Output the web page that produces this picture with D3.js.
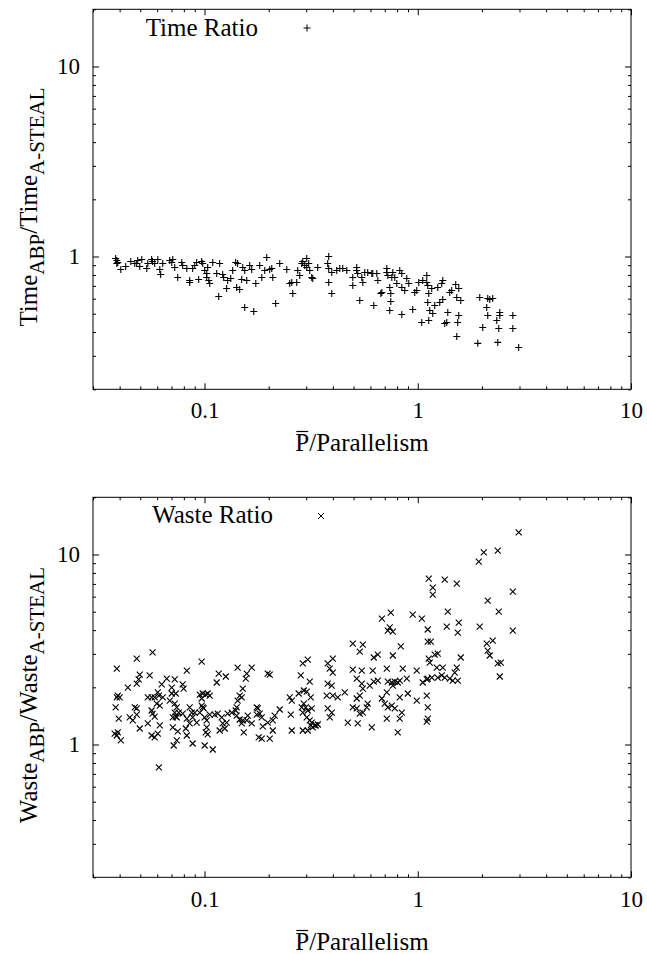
<!DOCTYPE html>
<html>
<head>
<meta charset="utf-8">
<script src="https://cdn.jsdelivr.net/npm/d3@7"></script>
<style>
body{margin:0;background:#fff;}
svg{font-family:"Liberation Serif","Times New Roman",serif;}
svg text{fill:#000;}
</style>
</head>
<body>
<svg id="chart" width="647" height="954"></svg>
<script>

/// Time ratio (ABP / A-STEAL) vs Pbar/Parallelism
var timeX = [0.0383,0.0388,0.0392,0.0388,0.0405,0.0427,0.0451,0.0471,0.0481,0.0486,
  0.0497,0.0508,0.0536,0.0542,0.0565,0.0571,0.0584,0.0604,0.0617,0.0623,
  0.0637,0.0687,0.0702,0.0710,0.0725,0.0749,0.0782,0.0790,0.0826,0.0852,
  0.0852,0.0880,0.0900,0.0919,0.0939,0.0970,0.0981,0.1002,0.1024,0.1024,
  0.1035,0.1047,0.1058,0.1093,0.1141,0.1166,0.1178,0.1217,0.1230,0.1270,
  0.1284,0.1327,0.1356,0.1400,0.1415,0.1430,0.1462,0.1494,0.1511,0.1544,
  0.1544,0.1578,0.1629,0.1665,0.1702,0.1740,0.1815,0.1856,0.1916,0.1958,
  0.2022,0.2067,0.2090,0.2157,0.2253,0.2431,0.2510,0.2566,0.2594,0.2707,
  0.2736,0.2796,0.2858,0.2890,0.2951,0.3016,0.3016,0.3082,0.3115,0.3183,
  0.3218,0.3395,0.3824,0.3782,0.3824,0.3951,0.3824,0.3951,0.4169,0.4307,
  0.4449,0.4646,0.4959,0.4959,0.5174,0.5174,0.5231,0.5346,0.5464,0.5525,
  0.5642,0.5827,0.6087,0.6219,0.6153,0.6426,0.6497,0.6786,0.6711,0.7158,
  0.7158,0.7237,0.7391,0.7473,0.7556,0.7391,0.7473,0.7640,0.7801,0.7973,
  0.8234,0.8418,0.8418,0.8418,0.8691,0.8882,0.9077,0.9473,0.9681,0.9893,
  1.011,1.044,1.055,1.102,1.102,1.114,1.126,1.114,1.138,1.126,
  1.163,1.176,1.201,1.241,1.268,1.296,1.310,1.338,1.368,1.383,
  1.412,1.443,1.507,1.524,1.557,1.591,1.557,1.540,1.524,1.310,
  1.953,2.106,2.129,2.176,2.247,2.129,2.017,1.912,2.347,2.424,
  2.424,2.398,2.372,2.792,2.792,2.974];
var timeY = [0.976,0.953,0.930,0.919,0.854,0.886,0.941,0.919,0.919,0.953,
  0.886,0.964,0.865,0.919,0.964,0.941,0.919,0.964,0.854,0.804,
  0.919,0.953,0.930,0.964,0.875,0.775,0.930,0.897,0.865,0.747,
  0.730,0.865,0.897,0.930,0.757,0.941,0.919,0.844,0.814,0.775,
  0.875,0.747,0.721,0.930,0.814,0.616,0.919,0.804,0.775,0.678,
  0.747,0.766,0.844,0.930,0.687,0.919,0.670,0.757,0.875,0.844,
  0.539,0.747,0.897,0.854,0.513,0.721,0.897,0.775,0.844,0.988,
  0.854,0.865,0.775,0.566,0.919,0.854,0.721,0.730,0.639,0.730,
  0.844,0.794,0.919,0.941,0.897,0.976,0.875,0.919,0.844,0.775,
  0.766,0.875,1.000,0.919,0.865,0.824,0.730,0.639,0.844,0.865,
  0.865,0.844,0.775,0.704,0.875,0.844,0.814,0.587,0.775,0.730,
  0.824,0.824,0.814,0.552,0.814,0.814,0.747,0.646,0.639,0.865,
  0.824,0.794,0.687,0.639,0.775,0.520,0.580,0.824,0.775,0.721,
  0.844,0.814,0.687,0.495,0.662,0.766,0.721,0.526,0.646,0.662,
  0.730,0.449,0.747,0.794,0.730,0.704,0.639,0.573,0.520,0.460,
  0.678,0.501,0.552,0.687,0.573,0.721,0.747,0.444,0.449,0.507,
  0.646,0.662,0.712,0.608,0.678,0.587,0.489,0.449,0.379,0.594,
  0.608,0.539,0.601,0.594,0.601,0.489,0.423,0.349,0.460,0.507,
  0.489,0.418,0.353,0.489,0.418,0.332];

/// Waste ratio (ABP / A-STEAL) vs Pbar/Parallelism
var wasteX = [0.0388,0.0481,0.0571,0.0970,0.0826,0.1430,0.1665,0.1578,0.1561,0.1166,
  0.1258,0.1141,0.1978,0.2022,0.2890,0.3049,0.2827,0.3115,0.3016,0.0497,
  0.0491,0.0481,0.0553,0.0437,0.0392,0.0388,0.0400,0.0383,0.0396,0.0379,
  0.0388,0.0405,0.0392,0.0630,0.0665,0.0702,0.0725,0.0790,0.0798,0.0604,
  0.0611,0.0542,0.0565,0.0584,0.0637,0.0597,0.0617,0.0702,0.0733,0.0687,
  0.0725,0.0741,0.0757,0.0725,0.0733,0.0710,0.0741,0.0471,0.0481,0.0446,
  0.0461,0.0481,0.0571,0.0584,0.0565,0.0617,0.0542,0.0497,0.0565,0.0584,
  0.0604,0.0710,0.0749,0.0817,0.0717,0.0741,0.0826,0.0790,0.0826,0.0852,
  0.0871,0.0880,0.0919,0.0900,0.0852,0.0880,0.0950,0.0970,0.0981,0.1013,
  0.1035,0.1058,0.0970,0.0981,0.0991,0.0950,0.1002,0.1024,0.1024,0.1013,
  0.1035,0.1002,0.1093,0.1058,0.1116,0.1153,0.1204,0.1217,0.1270,0.1178,
  0.1244,0.1284,0.1342,0.1400,0.1415,0.1430,0.1462,0.1494,0.1511,0.1415,
  0.1462,0.1494,0.1511,0.1527,0.1578,0.1665,0.1595,0.1758,0.1778,0.1815,
  0.1758,0.1795,0.1855,0.2022,0.1876,0.1855,0.1978,0.2090,0.2090,0.2134,
  0.2253,0.2538,0.2566,0.2510,0.2566,0.2765,0.2858,0.2921,0.2984,0.3049,
  0.2890,0.3016,0.3115,0.3149,0.2890,0.3049,0.3218,0.3324,0.3149,0.2921,
  0.0611,2.974,2.040,1.932,2.372,1.126,1.176,1.176,1.338,1.524,
  2.792,2.129,2.398,2.792,1.953,0.6786,0.7473,0.7391,0.7640,0.7237,
  0.9473,1.045,1.114,1.383,1.368,1.557,1.540,0.4959,0.5525,0.5346,
  0.8326,1.114,1.151,1.241,1.201,1.126,1.138,1.591,2.106,2.247,
  2.129,2.176,2.372,2.450,2.424,0.6219,0.6497,0.7640,0.3996,0.3782,
  0.3866,0.3996,0.3782,0.3951,0.3741,0.3996,0.3782,0.3951,0.3866,0.3288,
  0.3399,0.3183,0.3183,0.4214,0.4546,0.4959,0.5464,0.5174,0.5464,0.5525,
  0.5346,0.5174,0.4959,0.5174,0.5346,0.5525,0.5765,0.5827,0.5231,0.4697,
  0.6087,0.6153,0.6219,0.6497,0.5955,0.7158,0.7237,0.7556,0.7801,0.8058,
  0.8234,0.8504,0.8882,0.6786,0.7003,0.7237,0.7556,0.7158,0.7640,0.7801,
  0.8234,0.8418,0.8234,0.7158,0.8058,0.8981,0.9893,0.9893,1.102,1.114,
  1.102,1.114,1.055,1.102,1.114,1.163,1.228,1.241,1.296,1.310,
  1.338,1.412,1.459,1.491,1.524,1.540];
var wasteY = [2.51,2.83,3.05,2.73,2.45,2.54,2.54,2.36,2.22,2.36,
  2.28,2.12,2.36,2.33,2.67,2.80,2.31,2.14,1.90,2.33,
  2.20,2.09,2.31,1.99,1.81,1.77,1.77,1.57,1.37,1.14,
  1.115,1.05,1.157,2.07,2.22,1.99,2.20,2.07,1.97,1.88,
  1.81,1.77,1.77,1.77,1.77,1.64,1.60,1.855,1.855,1.70,
  1.64,1.57,1.47,1.47,1.40,1.39,1.39,1.57,1.55,1.39,
  1.338,1.438,1.455,1.40,1.51,1.26,1.29,1.214,1.115,1.089,
  1.142,1.229,1.171,1.214,0.988,1.05,1.115,1.455,1.37,1.57,
  1.47,1.39,1.305,1.47,1.29,1.012,1.832,1.746,1.855,1.832,
  1.855,1.81,1.60,1.57,1.55,1.47,1.39,1.338,1.229,1.157,
  1.129,0.988,0.941,1.438,1.438,1.455,1.39,1.29,1.305,1.185,
  1.214,1.455,1.47,1.51,1.57,1.70,1.81,1.77,1.97,1.42,
  1.354,1.29,1.338,1.157,1.338,1.29,1.42,1.57,1.55,1.455,
  1.438,1.089,1.075,1.075,1.244,1.39,1.305,1.338,1.185,1.42,
  1.528,1.438,1.185,1.77,1.70,1.855,1.57,1.64,1.57,1.51,
  1.47,1.39,1.338,1.26,1.185,1.185,1.229,1.26,1.77,1.924,
  0.757,13.06,10.25,9.17,10.49,7.47,6.70,6.15,7.38,7.03,
  6.38,5.72,5.01,3.98,4.17,4.60,4.95,4.13,3.93,3.98,
  4.83,4.60,4.03,5.01,4.17,4.38,3.88,3.40,3.357,3.08,
  3.28,3.48,3.48,3.01,2.974,2.83,2.70,2.87,3.40,3.52,
  3.12,2.94,2.67,2.70,2.28,2.87,2.97,2.94,2.83,2.67,
  2.51,2.39,2.09,2.04,1.81,1.81,1.55,1.47,1.39,1.26,
  1.274,1.55,1.305,1.77,1.88,2.48,2.45,2.22,2.09,1.97,
  1.81,1.746,1.57,1.55,1.455,1.47,1.57,1.643,1.29,1.305,
  1.229,2.45,2.14,2.17,2.04,2.51,2.14,2.12,2.14,2.12,
  2.17,2.51,2.22,1.746,1.64,1.57,1.60,1.88,2.04,1.55,
  1.77,1.47,1.37,1.37,1.157,1.855,2.45,1.70,1.81,1.57,
  1.32,1.37,2.12,2.20,2.22,2.25,2.54,2.25,2.31,2.54,
  2.25,2.22,2.17,2.39,2.54,2.17];

var xDomain = [0.03, 10];
var yDomain = [0.2, 20];
var xMajor = [0.1, 1, 10];
var yMajor = [1, 10];
var xTitle = "/Parallelism";   /// preceded by P with an overline

var svg = d3.select("#chart");

var margin = {left: 93, right: 16};
var width = 647 - margin.left - margin.right;
var height = 380;

var x = d3.scaleLog().domain(xDomain).range([0, width]);
var y = d3.scaleLog().domain(yDomain).range([height, 0]);

var xMinor = x.ticks().filter(function(d){ return xMajor.indexOf(+d.toPrecision(3)) < 0; });
var yMinor = y.ticks().filter(function(d){ return yMajor.indexOf(+d.toPrecision(3)) < 0; });

var plusPath = "M-3.5,0H3.5M0,-3.5V3.5";
var crossPath = "M-3,-3L3,3M-3,3L3,-3";

var panels = [
  {top: 9.3, xs: timeX, ys: timeY, mark: plusPath, key: "Time Ratio",
   keyTextX: 258, keyBase: 36, keyMarkX: 307, keyMarkY: 28,
   name: "Time", labelCY: 207, tickBase: 418, titleBase: 451},
  {top: 497.3, xs: wasteX, ys: wasteY, mark: crossPath, key: "Waste Ratio",
   keyTextX: 273, keyBase: 523, keyMarkX: 321, keyMarkY: 516,
   name: "Waste", labelCY: 695, tickBase: 907, titleBase: 950}
];

function fmt(d){ return d >= 1 ? d3.format("d")(d) : d3.format(".1f")(d); }

/// strip d3's default axis font and the domain line
function clean(a){
  a.attr("font-family", null).attr("font-size", null);
  a.select(".domain").remove();
  a.selectAll("text").style("font-size", "23px");
}

panels.forEach(function(p){
  var g = svg.append("g").attr("transform", "translate(" + margin.left + "," + p.top + ")");
  var pad = (p.tickBase - p.top - height) - 0.71 * 23;

  /// ticks on all four sides, pointing in
  g.append("g").attr("transform", "translate(0," + height + ")")
    .call(d3.axisBottom(x).tickValues(xMajor).tickSizeInner(-6).tickSizeOuter(0)
          .tickPadding(pad).tickFormat(fmt))
    .call(clean);
  g.append("g").attr("transform", "translate(0," + height + ")")
    .call(d3.axisBottom(x).tickValues(xMinor).tickSizeInner(-3).tickSizeOuter(0).tickFormat(""))
    .call(clean);
  g.append("g")
    .call(d3.axisTop(x).tickValues(xMajor).tickSizeInner(-6).tickSizeOuter(0).tickFormat(""))
    .call(clean);
  g.append("g")
    .call(d3.axisTop(x).tickValues(xMinor).tickSizeInner(-3).tickSizeOuter(0).tickFormat(""))
    .call(clean);

  g.append("g")
    .call(d3.axisLeft(y).tickValues(yMajor).tickSizeInner(-6).tickSizeOuter(0)
          .tickPadding(13).tickFormat(fmt))
    .call(clean);
  g.append("g")
    .call(d3.axisLeft(y).tickValues(yMinor).tickSizeInner(-3).tickSizeOuter(0).tickFormat(""))
    .call(clean);
  g.append("g").attr("transform", "translate(" + width + ",0)")
    .call(d3.axisRight(y).tickValues(yMajor).tickSizeInner(-6).tickSizeOuter(0).tickFormat(""))
    .call(clean);
  g.append("g").attr("transform", "translate(" + width + ",0)")
    .call(d3.axisRight(y).tickValues(yMinor).tickSizeInner(-3).tickSizeOuter(0).tickFormat(""))
    .call(clean);

  /// frame
  g.append("rect")
    .attr("x", 0).attr("y", 0).attr("width", width).attr("height", height)
    .attr("fill", "none").attr("stroke", "#000").attr("stroke-width", 1);

  /// points
  var pts = p.xs.map(function(d, i){ return {x: d, y: p.ys[i]}; });
  g.append("g").selectAll("path")
    .data(pts).enter().append("path")
      .attr("d", p.mark)
      .attr("transform", function(d){ return "translate(" + x(d.x) + "," + y(d.y) + ")"; })
      .attr("fill", "none").attr("stroke", "#000").attr("stroke-width", 1.1);

  /// key
  svg.append("text")
    .attr("x", p.keyTextX).attr("y", p.keyBase)
    .attr("text-anchor", "end").style("font-size", "25px")
    .text(p.key);
  svg.append("path")
    .attr("d", p.mark)
    .attr("transform", "translate(" + p.keyMarkX + "," + p.keyMarkY + ")")
    .attr("fill", "none").attr("stroke", "#000").attr("stroke-width", 1);

  /// y axis title with subscripts
  var yt = svg.append("text")
    .attr("transform", "translate(37," + p.labelCY + ") rotate(-90)")
    .attr("text-anchor", "middle").style("font-size", "25px");
  yt.append("tspan").text(p.name);
  yt.append("tspan").style("font-size", "21px").attr("dy", 7).text("ABP");
  yt.append("tspan").attr("dy", -7).text("/" + p.name);
  yt.append("tspan").style("font-size", "21px").attr("dy", 7).text("A-STEAL");

  /// x axis title, P with a bar over it
  var cx = margin.left + width / 2;
  var xt = svg.append("text")
    .attr("x", cx).attr("y", p.titleBase)
    .attr("text-anchor", "middle").style("font-size", "25px");
  xt.append("tspan").text("P");
  xt.append("tspan").text(xTitle);
  var node = xt.node();
  var p0 = node.getStartPositionOfChar(0).x;
  var p1 = node.getEndPositionOfChar(0).x;
  svg.append("line")
    .attr("x1", p0 + 1).attr("x2", p1 - 1)
    .attr("y1", p.titleBase - 19.5).attr("y2", p.titleBase - 19.5)
    .attr("stroke", "#000").attr("stroke-width", 1.2);
});

</script>
</body>
</html>
